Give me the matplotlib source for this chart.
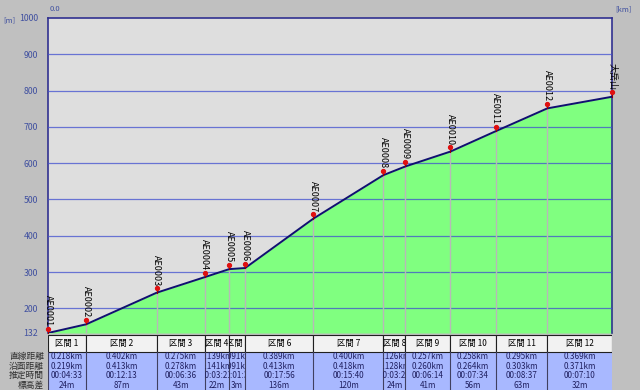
import numpy as np
import matplotlib
matplotlib.use("Agg")
from matplotlib import pyplot as plt
from matplotlib.patches import Rectangle
from matplotlib.transforms import Bbox, TransformedBbox

plt.rcParams['font.family'] = ['Noto Sans CJK JP', 'DejaVu Sans']

# 区間データ
sections = ["区間 1", "区間 2", "区間 3", "区間 4", "区間 5", "区間 6",
            "区間 7", "区間 8", "区間 9", "区間 10", "区間 11", "区間 12"]
straight_km = [0.218, 0.402, 0.275, 0.139, 0.091, 0.389, 0.400, 0.126, 0.257, 0.258, 0.295, 0.369]
surface_km = [0.219, 0.413, 0.278, 0.141, 0.091, 0.413, 0.418, 0.128, 0.260, 0.264, 0.303, 0.371]
est_time = ["00:04:33", "00:12:13", "00:06:36", "00:03:21", "00:01:35", "00:17:56",
            "00:15:40", "00:03:23", "00:06:14", "00:07:34", "00:08:37", "00:07:10"]
elev_diff = [24, 87, 43, 22, 3, 136, 120, 24, 41, 56, 63, 32]
start_elev = 132
point_names = ["AE0001", "AE0002", "AE0003", "AE0004", "AE0005", "AE0006", "AE0007",
               "AE0008", "AE0009", "AE0010", "AE0011", "AE0012", "大岳山"]
row_labels = ["直線距離", "沿面距離", "推定時間", "標高差"]
y_ticks = [132, 200, 300, 400, 500, 600, 700, 800, 900, 1000]

x_pts = np.concatenate([[0.0], np.cumsum(straight_km)])
y_pts = start_elev + np.concatenate([[0], np.cumsum(elev_diff)])
x_max = x_pts[-1]

W, H = 640, 390
fig = plt.figure(figsize=(6.4, 3.9), dpi=100)
fig.patch.set_facecolor('#c0c0c0')

L, R, T, B = 48, 612, 18, 333
ax = fig.add_axes([L / W, 1 - B / H, (R - L) / W, (B - T) / H])
ax.set_facecolor('#dedede')
ax.set_xlim(0, x_max)
ax.set_ylim(start_elev, 1000)

ax.fill_between(x_pts, y_pts, start_elev, color='#80ff80', zorder=2, lw=0)
for yv in y_ticks[1:-1]:
    ax.axhline(yv, color='#4050d0', lw=0.9, alpha=0.75, zorder=3)
for xv, yv in zip(x_pts[1:-1], y_pts[1:-1]):
    ax.plot([xv, xv], [start_elev, yv], color='#b8b8b8', lw=1.0, zorder=3)
ax.plot(x_pts, y_pts, color='#101070', lw=1.4, zorder=5)

# 地点マーカーとラベル
for xv, yv, name in zip(x_pts, y_pts, point_names):
    ax.plot([xv, xv], [yv, yv + 14], color='#900000', lw=0.8, zorder=6, clip_on=False)
    ax.plot(xv, yv + 12, marker='o', ms=2.8, color='#e01010', zorder=7, clip_on=False)
    ax.text(xv, yv + 19, name, rotation=270, ha='center', va='bottom',
            fontsize=6.5, color='black', zorder=8, clip_on=False)

ax.set_yticks(y_ticks)
ax.set_yticklabels([str(v) for v in y_ticks])
ax.set_xticks([])
ax.tick_params(axis='y', length=0, pad=7, labelsize=6.3, labelcolor='#4050a0')
for s in ax.spines.values():
    s.set_color('#303090')
    s.set_linewidth(1.2)
ax.spines['bottom'].set_visible(False)

fig.text(3 / W, 1 - 20 / H, "[m]", fontsize=5.5, color='#4050a0', va='center')
fig.text(50 / W, 1 - 9 / H, "0.0", fontsize=5.5, color='#4050a0', va='center')
fig.text(615 / W, 1 - 9 / H, "[km]", fontsize=5.5, color='#4050a0', va='center')

# 下部の表
tb = fig.add_axes([L / W, 0, (R - L) / W, (H - B) / H])
tb.set_xlim(0, x_max)
tb.set_ylim(H - B, 0)
tb.axis('off')
head_top, head_bot = 2, 19
row_h = (H - B - head_bot) / 4.0
tb.add_patch(Rectangle((0, head_bot), x_max, H - B - head_bot, color='#a8b8ff', lw=0))
for i, name in enumerate(sections):
    x0, x1 = x_pts[i], x_pts[i + 1]
    tb.add_patch(Rectangle((x0, head_top), x1 - x0, head_bot - head_top,
                           facecolor='#f2f2f2', edgecolor='#202020', lw=0.8))
    tb.plot([x0, x0], [head_bot, H - B], color='#404060', lw=0.8)
    clip = TransformedBbox(Bbox([[x0, head_top], [x1, H - B]]), tb.transData)
    xc = (x0 + x1) / 2
    vals = [f"{straight_km[i]:.3f}km", f"{surface_km[i]:.3f}km", est_time[i], f"{elev_diff[i]}m"]
    t = tb.text(xc, (head_top + head_bot) / 2, name, ha='center', va='center',
                fontsize=6, color='black', clip_on=True)
    t.set_clip_path(None)
    t.set_clip_box(clip)
    for j, v in enumerate(vals):
        t = tb.text(xc, head_bot + row_h * (j + 0.5), v, ha='center', va='center',
                    fontsize=5.8, color='#202060', clip_on=True)
        t.set_clip_path(None)
        t.set_clip_box(clip)

for j, lab in enumerate(row_labels):
    fig.text(44 / W, 1 - (B + head_bot + row_h * (j + 0.5)) / H, lab, ha='right', va='center',
             fontsize=6.3, color='#303030')

fig.savefig("out.png", dpi=100, facecolor=fig.get_facecolor())
